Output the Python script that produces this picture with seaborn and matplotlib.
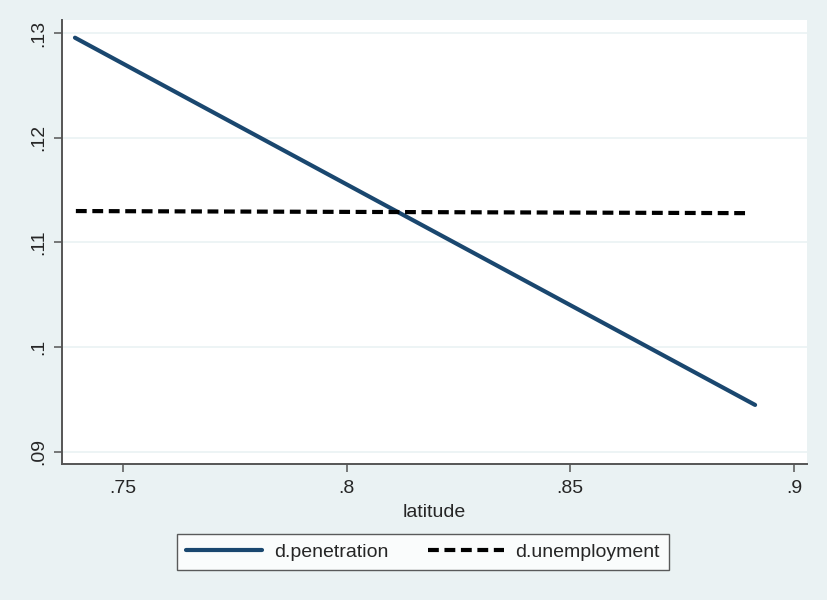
import matplotlib
matplotlib.use("Agg")
import matplotlib.pyplot as plt
import seaborn as sns
import pandas as pd
from matplotlib.lines import Line2D

latitude_pen = [0.7393, 0.8913]
d_penetration = [0.12955, 0.09449]
latitude_unemp = [0.7395, 0.8900]
d_unemployment = [0.11300, 0.11280]
xticks = [0.75, 0.80, 0.85, 0.90]
xtick_labels = [".75", ".8", ".85", ".9"]
yticks = [0.09, 0.10, 0.11, 0.12, 0.13]
ytick_labels = [".09", ".1", ".11", ".12", ".13"]

sns.set_theme(style="white")
plt.rcParams['font.family'] = ['Liberation Sans', 'DejaVu Sans']

bg = "#EAF2F3"
navy = "#1A476F"
dash = (0, (2.6, 1.35))
fs = 14
fig = plt.figure(figsize=(8.28, 6.0), dpi=100, facecolor=bg)
ax = fig.add_axes([62/828, 1 - 464/600, (807-62)/828, (464-20)/600])
ax.set_facecolor("white")

df_pen = pd.DataFrame({"latitude": latitude_pen, "value": d_penetration})
df_un = pd.DataFrame({"latitude": latitude_unemp, "value": d_unemployment})
sns.lineplot(data=df_pen, x="latitude", y="value", ax=ax, color=navy, linewidth=3.0,
             solid_capstyle="round")
sns.lineplot(data=df_un, x="latitude", y="value", ax=ax, color="black", linewidth=3.0,
             linestyle=dash)

ax.set_xlim(0.7364, 0.9029)
ax.set_ylim(0.08885, 0.13124)
ax.set_xticks(xticks)
ax.set_xticklabels(xtick_labels, fontsize=fs)
ax.set_yticks(yticks)
ax.set_yticklabels(ytick_labels, fontsize=fs, rotation=90, va="center")
ax.set_xlabel("latitude", fontsize=fs, labelpad=5)
ax.set_ylabel("")
ax.grid(True, axis="y", color=bg, linewidth=1.2)
ax.set_axisbelow(True)
for s in ["top", "right"]:
    ax.spines[s].set_visible(False)
for s in ["left", "bottom"]:
    ax.spines[s].set_color("#555555")
    ax.spines[s].set_linewidth(1.4)
ax.tick_params(axis="x", which="major", length=6, width=1.1, color="#555555",
               direction="out", bottom=True, pad=5.5)
ax.tick_params(axis="y", which="major", length=6, width=1.1, color="#555555",
               direction="out", left=True, pad=4.5)

handles = [Line2D([0], [0], color=navy, linewidth=3.0),
           Line2D([0], [0], color="black", linewidth=3.0, linestyle=dash)]
leg = fig.legend(handles, ["d.penetration", "d.unemployment"], loc="center",
                 bbox_to_anchor=(423/828, 1 - 552/600), ncol=2, fontsize=fs,
                 frameon=True, fancybox=False, edgecolor="#333333", facecolor="white",
                 handlelength=3.9, columnspacing=2.05, borderpad=0.45, handletextpad=0.6,
                 borderaxespad=0)
leg.get_frame().set_linewidth(1.0)

fig.savefig("out.png", dpi=100, facecolor=bg)
